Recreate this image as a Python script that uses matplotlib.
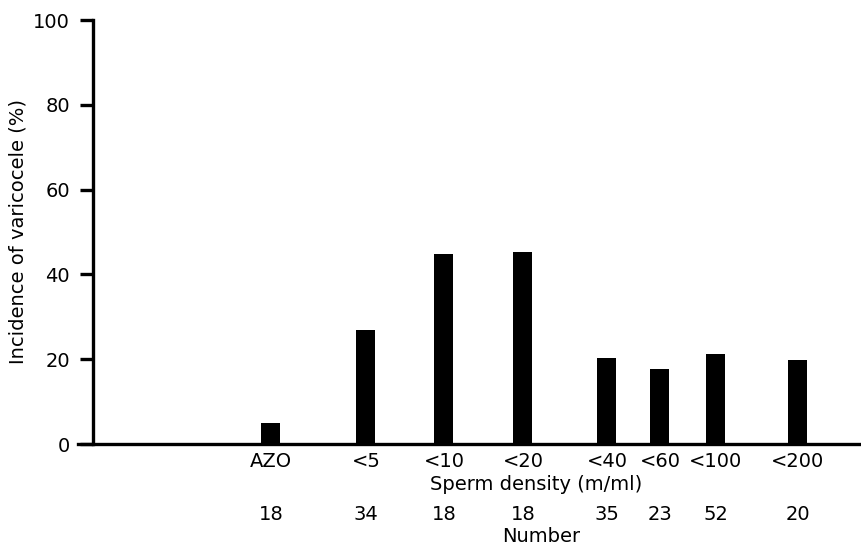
#!/usr/bin/env python

import matplotlib.pyplot as plt
from matplotlib import transforms

# data
categories = ["AZO", "<5", "<10", "<20", "<40", "<60", "<100", "<200"]
incidence = [4.9, 27.0, 44.8, 45.2, 20.4, 17.8, 21.2, 19.8]
numbers = [18, 34, 18, 18, 35, 23, 52, 20]

# layout: irregular bar positions along the x axis (axis units)
xpos = [271, 366, 444, 523, 607, 660, 716, 798]
bar_w = 19


def make_plot():
    fig = plt.figure(figsize=(8.62, 5.46), dpi=100)
    ax = fig.add_axes([78 / 862, 102 / 546, 784 / 862, 424 / 546])

    ax.bar(xpos, incidence, width=bar_w, color="black")

    ax.set_xlim(78, 862)
    ax.set_ylim(0, 100)

    for s in ["top", "right"]:
        ax.spines[s].set_visible(False)
    ax.spines["left"].set_position(("data", 93))
    ax.spines["left"].set_linewidth(2.4)
    ax.spines["bottom"].set_linewidth(2.4)
    ax.spines["left"].set_bounds(0, 100)

    ax.set_yticks([0, 20, 40, 60, 80, 100])
    ax.tick_params(axis="y", direction="out", length=9.5, width=2.4,
                   labelsize=14, pad=7)
    ax.set_xticks(xpos)
    ax.set_xticklabels(categories)
    ax.tick_params(axis="x", length=0, labelsize=14, pad=6)

    fig.text(18 / 862, 1 - 232 / 546, "Incidence of varicocele (%)",
             rotation=90, ha="center", va="center", fontsize=14)
    fig.text(536 / 862, 1 - 485 / 546, "Sperm density (m/ml)",
             ha="center", va="center", fontsize=14)

    trans = transforms.blended_transform_factory(ax.transData, fig.transFigure)
    for x, n in zip(xpos, numbers):
        ax.text(x, 1 - 515 / 546, str(n), transform=trans,
                ha="center", va="center", fontsize=14)
    fig.text(541 / 862, 1 - 537 / 546, "Number",
             ha="center", va="center", fontsize=14)

    plt.savefig("out.png", dpi=100)


if __name__ == "__main__":
    make_plot()
